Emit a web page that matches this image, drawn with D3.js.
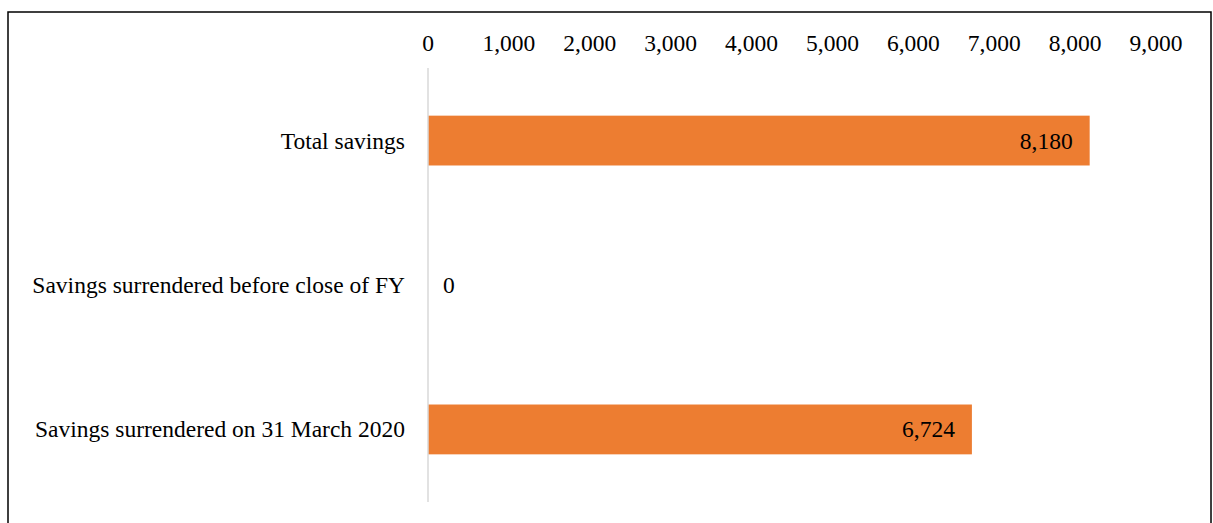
<!DOCTYPE html>
<html>
<head>
<meta charset="utf-8">
<script src="https://cdn.jsdelivr.net/npm/d3@7"></script>
<style>
  body { margin: 0; background: #fff; }
  text { font-family: "Liberation Serif", "Times New Roman", serif; fill: #000; }
</style>
</head>
<body>
<svg id="chart"></svg>
<script>
// chart data
var categories = ['Total savings', 'Savings surrendered before close of FY', 'Savings surrendered on 31 March 2020'];
var values = [8180, 0, 6724];
var tickValues = [0, 1000, 2000, 3000, 4000, 5000, 6000, 7000, 8000, 9000];

var width = 1213, height = 523;
var fontSize = '23.5px';
var svg = d3.select('#chart')
    .attr('width', width)
    .attr('height', height);

// outer frame
svg.append('rect')
    .attr('x', 8).attr('y', 12)
    .attr('width', 1203).attr('height', 520)
    .attr('fill', 'none')
    .attr('stroke', '#000')
    .attr('stroke-width', 1.5);

var x = d3.scaleLinear().domain([0, 9000]).range([428, 1156]);
var y = d3.scaleBand().domain(categories).range([68, 502]).paddingInner(0.655).paddingOuter(0.33);

var fmt = d3.format(',');

// top tick labels
svg.append('g').selectAll('text')
    .data(tickValues).enter().append('text')
    .attr('x', function(d) { return x(d); })
    .attr('y', 43)
    .attr('text-anchor', 'middle')
    .attr('dominant-baseline', 'central')
    .style('font-size', fontSize)
    .text(function(d) { return fmt(d); });

// bars
svg.append('g').selectAll('rect')
    .data(values).enter().append('rect')
    .attr('x', x(0))
    .attr('y', function(d, i) { return y(categories[i]); })
    .attr('width', function(d) { return x(d) - x(0); })
    .attr('height', y.bandwidth())
    .attr('fill', '#ED7D31');

// vertical axis line
svg.append('line')
    .attr('x1', x(0)).attr('x2', x(0))
    .attr('y1', 68).attr('y2', 502)
    .attr('stroke', '#d9d9d9')
    .attr('stroke-width', 1.5);

// category labels
svg.append('g').selectAll('text')
    .data(categories).enter().append('text')
    .attr('x', 405)
    .attr('y', function(d) { return y(d) + y.bandwidth() / 2; })
    .attr('text-anchor', 'end')
    .attr('dominant-baseline', 'central')
    .style('font-size', fontSize)
    .text(function(d) { return d; });

// value labels
svg.append('g').selectAll('text')
    .data(values).enter().append('text')
    .attr('x', function(d) { return d > 0 ? x(d) - 17 : x(0) + 15; })
    .attr('y', function(d, i) { return y(categories[i]) + y.bandwidth() / 2; })
    .attr('text-anchor', function(d) { return d > 0 ? 'end' : 'start'; })
    .attr('dominant-baseline', 'central')
    .style('font-size', fontSize)
    .text(function(d) { return fmt(d); });
</script>
</body>
</html>
